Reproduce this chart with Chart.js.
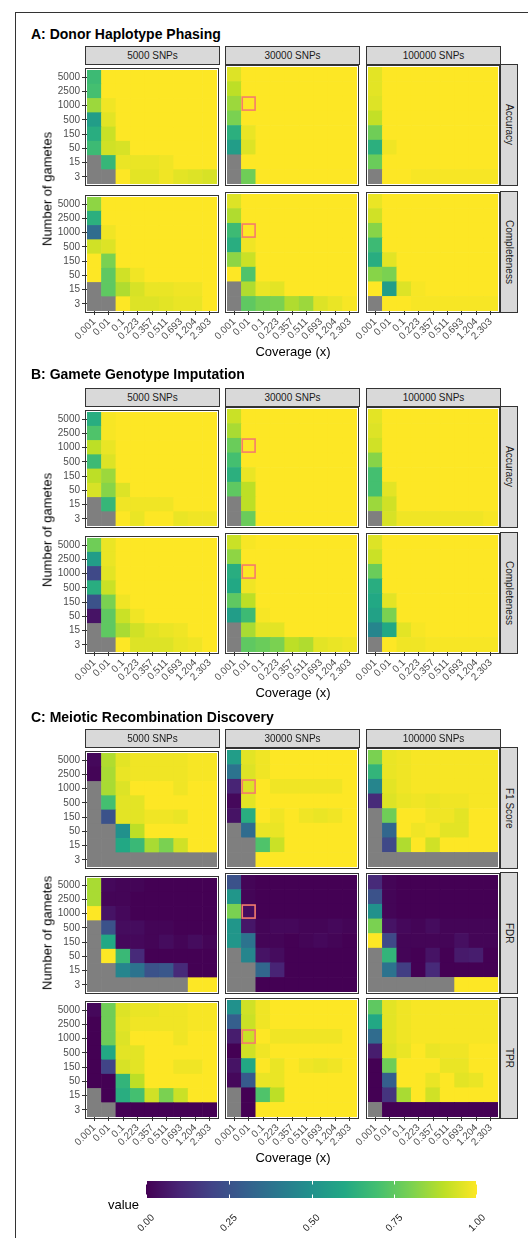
<!DOCTYPE html>
<html><head><meta charset="utf-8">
<script src="https://cdn.jsdelivr.net/npm/chart.js@4.4.1/dist/chart.umd.min.js"></script>
<style>
html,body{margin:0;padding:0;background:#fff;}
body{width:528px;height:1238px;position:relative;overflow:hidden;font-family:"Liberation Sans",Arial,Helvetica,sans-serif;}
.abs{position:absolute;}
.title{font-weight:bold;font-size:14px;line-height:14px;color:#000;white-space:nowrap;}
.strip{box-sizing:border-box;border:1px solid #333;background:#d9d9d9;font-size:10px;color:#1a1a1a;display:flex;align-items:center;justify-content:center;white-space:nowrap;}
.vstrip{writing-mode:vertical-rl;}
.axtitle{font-size:13px;line-height:13px;color:#000;white-space:nowrap;}
</style></head><body>
<div class="abs" style="left:15px;top:12px;width:700px;height:1400px;border-left:1px solid #333;border-top:1px solid #333;"></div>
<script>
const NA = null;
const coverageLabels = ['0.001','0.01','0.1','0.223','0.357','0.511','0.693','1.204','2.303'];
const gameteLabels = ['5000','2500','1000','500','150','50','15','3'];
const snpLabels = ['5000 SNPs','30000 SNPs','100000 SNPs'];
const legendTicks = [0, 0.25, 0.5, 0.75, 1];
const highlightSnp = '30000 SNPs';
const highlightCoverage = '0.01';
const highlightGametes = '1000';

// ---- A: Donor Haplotype Phasing ----
const phaseAcc5000 = [
  [0.68,1,1,1,1,1,1,1,1],
  [0.70,1,1,1,1,1,1,1,1],
  [0.85,0.98,1,1,1,1,1,1,1],
  [0.55,0.96,1,1,1,1,1,1,1],
  [0.62,0.92,1,1,1,1,1,1,1],
  [0.68,0.93,0.94,1,1,1,1,1,1],
  [NA,0.66,0.97,0.97,0.97,0.98,1,1,1],
  [NA,NA,1,0.96,0.96,0.98,0.96,0.95,0.94]
];
const phaseAcc30000 = [
  [0.95,1,1,1,1,1,1,1,1],
  [0.90,1,1,1,1,1,1,1,1],
  [0.85,1,1,1,1,1,1,1,1],
  [0.80,1,1,1,1,1,1,1,1],
  [0.63,0.97,1,1,1,1,1,1,1],
  [0.55,0.95,1,1,1,1,1,1,1],
  [NA,1,1,1,1,1,1,1,1],
  [NA,0.78,1,1,1,1,1,1,1]
];
const phaseAcc100000 = [
  [0.96,1,1,1,1,1,1,1,1],
  [0.96,1,1,1,1,1,1,1,1],
  [0.95,1,1,1,1,1,1,1,1],
  [0.91,1,1,1,1,1,1,1,1],
  [0.78,1,1,1,1,1,1,1,1],
  [0.63,0.98,1,1,1,1,1,1,1],
  [0.77,1,1,1,1,1,1,1,1],
  [NA,1,1,0.99,0.99,0.99,0.99,0.99,0.99]
];
const phaseComp5000 = [
  [0.83,1,1,1,1,1,1,1,1],
  [0.63,1,1,1,1,1,1,1,1],
  [0.35,0.98,1,1,1,1,1,1,1],
  [0.93,0.95,1,1,1,1,1,1,1],
  [1,0.80,1,1,1,1,1,1,1],
  [1,0.75,0.93,0.98,1,1,1,1,1],
  [NA,0.75,0.88,0.94,0.97,0.97,0.98,0.98,1],
  [NA,NA,1,0.95,0.95,0.96,0.97,0.97,1]
];
const phaseComp30000 = [
  [0.95,1,1,1,1,1,1,1,1],
  [0.88,1,1,1,1,1,1,1,1],
  [0.68,1,1,1,1,1,1,1,1],
  [0.62,0.98,1,1,1,1,1,1,1],
  [0.83,0.92,1,1,1,1,1,1,1],
  [1,0.72,1,1,1,1,1,1,1],
  [NA,0.88,0.97,0.96,1,1,1,1,1],
  [NA,0.75,0.79,0.80,0.88,0.85,0.95,0.97,0.99]
];
const phaseComp100000 = [
  [0.97,1,1,1,1,1,1,1,1],
  [0.93,1,1,1,1,1,1,1,1],
  [0.82,1,1,1,1,1,1,1,1],
  [0.68,1,1,1,1,1,1,1,1],
  [0.62,0.96,1,1,1,1,1,1,1],
  [0.82,0.80,1,1,1,1,1,1,1],
  [1,0.55,0.95,0.99,1,1,1,1,1],
  [NA,1,1,0.99,0.99,0.99,0.99,0.99,0.99]
];

// ---- B: Gamete Genotype Imputation ----
const imputeAcc5000 = [
  [0.62,0.99,1,1,1,1,1,1,1],
  [0.72,0.99,1,1,1,1,1,1,1],
  [0.90,0.97,1,1,1,1,1,1,1],
  [0.68,0.95,1,1,1,1,1,1,1],
  [0.90,0.85,1,1,1,1,1,1,1],
  [0.94,0.82,0.95,1,1,1,1,1,1],
  [NA,0.66,0.98,0.98,0.98,0.98,1,1,1],
  [NA,NA,1,0.97,1,1,0.97,0.98,0.98]
];
const imputeAcc30000 = [
  [0.92,1,1,1,1,1,1,1,1],
  [0.87,1,1,1,1,1,1,1,1],
  [0.77,1,1,1,1,1,1,1,1],
  [0.70,1,1,1,1,1,1,1,1],
  [0.63,0.97,1,1,1,1,1,1,1],
  [0.75,0.90,1,1,1,1,1,1,1],
  [NA,0.90,1,1,1,1,1,1,1],
  [NA,0.77,1,1,1,1,1,1,1]
];
const imputeAcc100000 = [
  [0.96,1,1,1,1,1,1,1,1],
  [0.95,1,1,1,1,1,1,1,1],
  [0.93,1,1,1,1,1,1,1,1],
  [0.82,1,1,1,1,1,1,1,1],
  [0.70,1,1,1,1,1,1,1,1],
  [0.70,0.96,1,1,1,1,1,1,1],
  [0.85,0.93,1,1,1,1,1,1,1],
  [NA,0.94,0.98,0.98,0.98,0.98,0.98,0.98,0.99]
];
const imputeComp5000 = [
  [0.78,0.97,1,1,1,1,1,1,1],
  [0.55,0.97,1,1,1,1,1,1,1],
  [0.22,0.96,1,1,1,1,1,1,1],
  [0.62,0.92,1,1,1,1,1,1,1],
  [0.25,0.80,0.98,1,1,1,1,1,1],
  [0.05,0.75,0.92,0.98,1,1,1,1,1],
  [NA,0.75,0.87,0.93,0.96,0.97,0.98,1,1],
  [NA,NA,1,0.95,0.95,0.95,0.97,0.98,1]
];
const imputeComp30000 = [
  [0.92,0.99,1,1,1,1,1,1,1],
  [0.83,1,1,1,1,1,1,1,1],
  [0.62,1,1,1,1,1,1,1,1],
  [0.60,0.98,1,1,1,1,1,1,1],
  [0.75,0.90,1,1,1,1,1,1,1],
  [0.55,0.68,0.99,1,1,1,1,1,1],
  [NA,0.87,0.96,0.96,1,1,1,1,1],
  [NA,0.75,0.77,0.80,0.90,0.88,0.96,0.97,0.98]
];
const imputeComp100000 = [
  [0.95,1,1,1,1,1,1,1,1],
  [0.92,1,1,1,1,1,1,1,1],
  [0.77,1,1,1,1,1,1,1,1],
  [0.62,1,1,1,1,1,1,1,1],
  [0.60,0.96,1,1,1,1,1,1,1],
  [0.57,0.80,1,1,1,1,1,1,1],
  [0.45,0.60,0.96,0.99,1,1,1,1,1],
  [NA,1,0.98,0.98,0.99,0.99,0.99,0.99,0.99]
];

// ---- C: Meiotic Recombination Discovery ----
const recF1_5000 = [
  [0.02,0.88,0.96,0.98,0.98,0.98,0.98,0.99,0.99],
  [0.01,0.87,0.97,0.98,0.98,0.98,0.98,0.99,0.99],
  [NA,0.87,0.95,1,1,1,0.98,1,1],
  [NA,0.70,0.96,0.96,1,1,1,1,1],
  [NA,0.25,0.96,0.96,0.98,0.98,0.97,1,1],
  [NA,NA,0.50,0.90,1,1,1,1,1],
  [NA,NA,0.60,0.67,0.87,0.80,0.93,1,1],
  [NA,NA,NA,NA,NA,NA,NA,NA,NA]
];
const recF1_30000 = [
  [0.55,0.96,0.98,1,1,1,1,1,1],
  [0.38,0.95,0.98,1,1,1,1,1,1],
  [0.10,0.95,1,0.98,0.98,0.98,0.98,0.98,1],
  [0.02,0.96,1,1,1,1,1,1,1],
  [0.05,0.62,1,0.98,1,0.98,0.97,0.98,1],
  [NA,0.35,0.97,0.97,1,1,1,1,1],
  [NA,NA,0.72,0.92,1,1,1,1,1],
  [NA,NA,1,1,1,1,1,1,1]
];
const recF1_100000 = [
  [0.80,0.97,0.98,0.99,0.99,0.99,0.99,0.99,0.99],
  [0.65,0.97,0.98,0.99,0.99,0.99,0.99,0.99,0.99],
  [0.45,0.96,0.98,0.99,0.99,0.99,0.99,0.99,0.99],
  [0.12,0.95,0.97,0.98,0.97,0.98,0.98,0.99,0.99],
  [NA,0.78,1,1,0.98,0.98,0.96,1,1],
  [NA,0.33,1,0.98,0.99,0.96,0.96,1,1],
  [NA,0.22,0.88,1,0.93,1,1,1,1],
  [NA,NA,NA,NA,NA,NA,NA,NA,NA]
];
const recFDR_5000 = [
  [0.87,0.02,0.01,0.01,0,0,0,0,0],
  [0.87,0.01,0.01,0,0,0,0,0,0],
  [1,0.05,0.02,0,0,0,0,0,0],
  [NA,0.25,0.03,0.03,0.01,0.01,0,0,0],
  [NA,0.60,0.02,0.02,0.01,0.03,0.01,0.03,0.01],
  [NA,1,0.67,0.12,0,0,0,0,0],
  [NA,NA,0.45,0.38,0.25,0.27,0.12,0,0],
  [NA,NA,NA,NA,NA,NA,NA,1,1]
];
const recFDR_30000 = [
  [0.25,0.01,0,0,0,0,0,0,0],
  [0.52,0.01,0,0,0,0,0,0,0],
  [0.80,0.03,0,0,0,0,0,0,0],
  [0.52,0.06,0.01,0.02,0.02,0.01,0.01,0.02,0.01],
  [0.52,0.38,0.01,0.01,0,0.01,0.02,0.01,0],
  [NA,0.45,0.05,0.03,0,0,0,0,0],
  [NA,NA,0.33,0.10,0,0,0,0,0],
  [NA,NA,0,0,0,0,0,0,0]
];
const recFDR_100000 = [
  [0.12,0.01,0,0,0,0,0,0,0],
  [0.25,0.01,0,0,0,0,0,0,0],
  [0.50,0.01,0,0,0,0,0,0,0],
  [0.80,0.05,0.02,0.01,0.03,0.01,0.01,0.01,0.01],
  [1,0.22,0.01,0.01,0.01,0.01,0.04,0.01,0.01],
  [NA,0.65,0.01,0,0.05,0,0.07,0.08,0],
  [NA,0.38,0.18,0,0.12,0,0,0,0],
  [NA,NA,NA,NA,NA,NA,1,1,1]
];
const recTPR_5000 = [
  [0.02,0.78,0.95,0.97,0.97,0.98,0.98,0.99,0.99],
  [0,0.78,0.96,0.98,0.98,0.98,0.98,0.99,0.99],
  [0,0.78,0.95,1,1,1,0.98,1,1],
  [0,0.60,0.96,0.96,1,1,1,1,1],
  [0,0.20,0.94,0.96,1,1,0.98,0.98,1],
  [0,0,0.65,0.90,1,1,1,1,1],
  [NA,0,0.62,0.70,0.93,0.80,0.92,1,1],
  [NA,NA,0,0,0,0,0,0,0]
];
const recTPR_30000 = [
  [0.50,0.93,0.98,1,1,1,1,1,1],
  [0.30,0.92,0.98,1,1,1,1,1,1],
  [0.08,0.92,1,0.98,0.98,0.98,0.98,0.98,1],
  [0,0.93,0.98,1,1,1,1,1,1],
  [0.05,0.60,1,0.97,1,0.98,0.97,0.98,1],
  [0.02,0.28,0.97,0.97,1,1,1,1,1],
  [NA,0,0.72,0.90,1,1,1,1,1],
  [NA,0,1,1,1,1,1,1,1]
];
const recTPR_100000 = [
  [0.75,0.96,0.98,0.99,0.99,0.99,0.99,0.99,0.99],
  [0.60,0.96,0.98,0.99,0.99,0.99,0.99,0.99,0.99],
  [0.35,0.96,0.98,0.99,0.99,0.99,0.99,0.99,0.99],
  [0.08,0.95,0.97,1,0.97,0.98,0.98,1,1],
  [0,0.78,1,1,1,0.97,0.97,1,1],
  [0,0.30,1,1,0.97,1,0.96,0.97,1],
  [0,0.15,0.87,1,0.93,1,1,1,1],
  [NA,0,0,0,0,0,0,0,0]
];

const sectionTitles = ['A: Donor Haplotype Phasing','B: Gamete Genotype Imputation','C: Meiotic Recombination Discovery'];
const metricLabels = [['Accuracy','Completeness'],['Accuracy','Completeness'],['F1 Score','FDR','TPR']];
const panelData = [
  [[phaseAcc5000, phaseAcc30000, phaseAcc100000],[phaseComp5000, phaseComp30000, phaseComp100000]],
  [[imputeAcc5000, imputeAcc30000, imputeAcc100000],[imputeComp5000, imputeComp30000, imputeComp100000]],
  [[recF1_5000, recF1_30000, recF1_100000],[recFDR_5000, recFDR_30000, recFDR_100000],[recTPR_5000, recTPR_30000, recTPR_100000]]
];

// ---- layout (pixels) ----
const panelLeft = [85, 225, 366];
const rowTops = [[64, 191], [406, 532], [747, 872, 997]];
const titleTops = [27, 367, 710];
const coverageTitleTops = [345, 686, 1151];
const PANEL_W = 135, PANEL_H = 122, TILE_W = 131, TILE_H = 118;
const AX_Y = 50, AX_X = 50, PAD = 4;
const NA_COLOR = '#7f7f7f';
const FONT = '"Liberation Sans", Arial, Helvetica, sans-serif';

Chart.defaults.font.family = FONT;
Chart.defaults.animation = false;

const viridisStops = ['#440154','#482475','#414487','#355f8d','#2a788e','#21918c','#22a884','#44bf70','#7ad151','#bddf26','#fde725'];
const viridisRgb = viridisStops.map(h => [parseInt(h.substr(1,2),16), parseInt(h.substr(3,2),16), parseInt(h.substr(5,2),16)]);
function viridis(t) {
  t = Math.max(0, Math.min(1, t));
  const n = viridisRgb.length - 1;
  const p = t * n;
  const i = Math.min(Math.floor(p), n - 1);
  const f = p - i;
  const a = viridisRgb[i], b = viridisRgb[i + 1];
  return 'rgb(' + [0,1,2].map(k => Math.round(a[k] + (b[k] - a[k]) * f)).join(',') + ')';
}

function addDiv(cls, text, style) {
  const d = document.createElement('div');
  d.className = 'abs ' + cls;
  d.textContent = text;
  Object.assign(d.style, style);
  document.body.appendChild(d);
  return d;
}

const panelDeco = {
  id: 'panelDeco',
  afterDatasetsDraw(chart, args, opts) {
    const ctx = chart.ctx, ca = chart.chartArea;
    ctx.save();
    ctx.strokeStyle = '#333333';
    ctx.lineWidth = 1;
    ctx.strokeRect(ca.left - 1.5, ca.top - 1.5, ca.width + 3, ca.height + 3);
    if (opts.highlight) {
      const xs = chart.scales.x, ys = chart.scales.y;
      const cx = xs.getPixelForValue(coverageLabels.indexOf(highlightCoverage));
      const cy = ys.getPixelForValue(gameteLabels.indexOf(highlightGametes));
      const cw = ca.width / coverageLabels.length, ch = ca.height / gameteLabels.length;
      ctx.strokeStyle = '#f47c6c';
      ctx.lineWidth = 1.6;
      ctx.strokeRect(cx - cw / 2 + 0.8, cy - ch / 2 + 0.8, cw - 1.6, ch - 1.6);
    }
    ctx.restore();
  }
};

function makePanel(values, px, py, isLeft, isBottom, highlight) {
  const L = px + 2, T = py + 2;
  const W = AX_Y + TILE_W + PAD, H = PAD + TILE_H + AX_X;
  const wrap = document.createElement('div');
  wrap.className = 'abs';
  Object.assign(wrap.style, {left: (L - AX_Y) + 'px', top: (T - PAD) + 'px', width: W + 'px', height: H + 'px'});
  const cv = document.createElement('canvas');
  cv.width = W; cv.height = H;
  cv.style.width = W + 'px'; cv.style.height = H + 'px';
  wrap.appendChild(cv);
  document.body.appendChild(wrap);
  const points = [];
  values.forEach((row, i) => row.forEach((v, j) => points.push({x: coverageLabels[j], y: gameteLabels[i], v: v})));
  const radiusFn = c => {
    const a = c.chart.chartArea;
    if (!a) return 5;
    return (Math.max(a.width / coverageLabels.length, a.height / gameteLabels.length) + 0.6) / Math.SQRT2;
  };
  new Chart(cv, {
    type: 'scatter',
    data: {datasets: [{
      data: points,
      pointStyle: 'rect',
      clip: 0,
      borderWidth: 0,
      pointBorderWidth: 0,
      pointBackgroundColor: c => (c.raw && c.raw.v !== null && c.raw.v !== undefined) ? viridis(c.raw.v) : NA_COLOR,
      backgroundColor: c => (c.raw && c.raw.v !== null && c.raw.v !== undefined) ? viridis(c.raw.v) : NA_COLOR,
      pointRadius: radiusFn,
      pointHoverRadius: radiusFn
    }]},
    options: {
      responsive: false,
      devicePixelRatio: 1,
      animation: false,
      events: [],
      layout: {padding: {top: PAD, right: PAD, left: 0, bottom: 0}},
      plugins: {legend: {display: false}, tooltip: {enabled: false}, panelDeco: {highlight: highlight}},
      scales: {
        x: {
          type: 'category', labels: coverageLabels, offset: true,
          grid: {display: isBottom, drawOnChartArea: false, drawTicks: true, tickLength: 4, color: '#333333', offset: false},
          border: {display: false},
          ticks: {display: isBottom, autoSkip: false, minRotation: 45, maxRotation: 45, color: '#4d4d4d', font: {size: 10}, padding: 1},
          afterFit: s => { s.height = AX_X; }
        },
        y: {
          type: 'category', labels: gameteLabels, offset: true,
          grid: {display: isLeft, drawOnChartArea: false, drawTicks: true, tickLength: 5, color: '#333333', offset: false},
          border: {display: false},
          ticks: {display: isLeft, autoSkip: false, color: '#4d4d4d', font: {size: 10}, padding: 2},
          afterFit: s => { s.width = AX_Y; }
        }
      }
    },
    plugins: [panelDeco]
  });
}

sectionTitles.forEach((title, s) => {
  addDiv('title', title, {left: '31px', top: titleTops[s] + 'px'});
  const tops = rowTops[s];
  snpLabels.forEach((lab, k) => {
    addDiv('strip', lab, {left: panelLeft[k] + 'px', top: (tops[0] - 18) + 'px', width: PANEL_W + 'px', height: '19px'});
  });
  metricLabels[s].forEach((m, r) => {
    addDiv('strip vstrip', m, {left: (panelLeft[2] + PANEL_W - 1) + 'px', top: tops[r] + 'px', width: '18px', height: PANEL_H + 'px'});
    snpLabels.forEach((lab, k) => {
      makePanel(panelData[s][r][k], panelLeft[k], tops[r], k === 0, r === tops.length - 1, lab === highlightSnp);
    });
  });
  const yc = (tops[0] + tops[tops.length - 1] + PANEL_H) / 2;
  addDiv('axtitle', 'Number of gametes', {left: '47px', top: yc + 'px', transform: 'translate(-50%,-50%) rotate(-90deg)'});
  addDiv('axtitle', 'Coverage (x)', {left: ((panelLeft[0] + panelLeft[2] + PANEL_W) / 2) + 'px', top: coverageTitleTops[s] + 'px', transform: 'translateX(-50%)'});
});

// ---- colour bar legend ----
const BAR_L = 146, BAR_T = 1181, BAR_W = 331, BAR_H = 17;
addDiv('axtitle', 'value', {left: '108px', top: '1198px'});
const colorbarMarks = {
  id: 'colorbarMarks',
  afterDatasetsDraw(chart) {
    const ctx = chart.ctx, ca = chart.chartArea, xs = chart.scales.x;
    ctx.save();
    ctx.strokeStyle = '#ffffff';
    ctx.lineWidth = 1;
    legendTicks.forEach(v => {
      const x = Math.round(xs.getPixelForValue(v)) + 0.5 - (v === 1 ? 1 : 0);
      ctx.beginPath();
      ctx.moveTo(x, ca.top); ctx.lineTo(x, ca.top + 3.5);
      ctx.moveTo(x, ca.bottom - 3.5); ctx.lineTo(x, ca.bottom);
      ctx.stroke();
    });
    ctx.restore();
  }
};
(function () {
  const padL = 60, padR = 20, padT = 2, axH = 40;
  const W = padL + BAR_W + padR, H = padT + BAR_H + axH;
  const wrap = document.createElement('div');
  wrap.className = 'abs';
  Object.assign(wrap.style, {left: (BAR_L - padL) + 'px', top: (BAR_T - padT) + 'px', width: W + 'px', height: H + 'px'});
  const cv = document.createElement('canvas');
  cv.width = W; cv.height = H;
  cv.style.width = W + 'px'; cv.style.height = H + 'px';
  wrap.appendChild(cv);
  document.body.appendChild(wrap);
  new Chart(cv, {
    type: 'bar',
    data: {labels: ['value'], datasets: [{
      data: [[legendTicks[0], legendTicks[legendTicks.length - 1]]],
      backgroundColor: c => {
        const a = c.chart.chartArea;
        if (!a) return '#21918c';
        const g = c.chart.ctx.createLinearGradient(a.left, 0, a.right, 0);
        viridisStops.forEach((col, i) => g.addColorStop(i / (viridisStops.length - 1), col));
        return g;
      },
      barPercentage: 1, categoryPercentage: 1, borderWidth: 0, borderSkipped: false, inflateAmount: 0
    }]},
    options: {
      indexAxis: 'y',
      responsive: false, devicePixelRatio: 1, animation: false, events: [],
      layout: {padding: {left: padL, right: padR, top: padT, bottom: 0}},
      plugins: {legend: {display: false}, tooltip: {enabled: false}},
      scales: {
        x: {
          type: 'linear', min: 0, max: 1,
          afterBuildTicks: s => { s.ticks = legendTicks.map(v => ({value: v})); },
          grid: {display: false}, border: {display: false},
          ticks: {minRotation: 45, maxRotation: 45, color: '#1a1a1a', font: {size: 10}, padding: 6, labelOffset: 7,
                  callback: v => Number(v).toFixed(2)},
          afterFit: s => { s.height = axH; }
        },
        y: {display: false}
      }
    },
    plugins: [colorbarMarks]
  });
})();
</script></body></html>
